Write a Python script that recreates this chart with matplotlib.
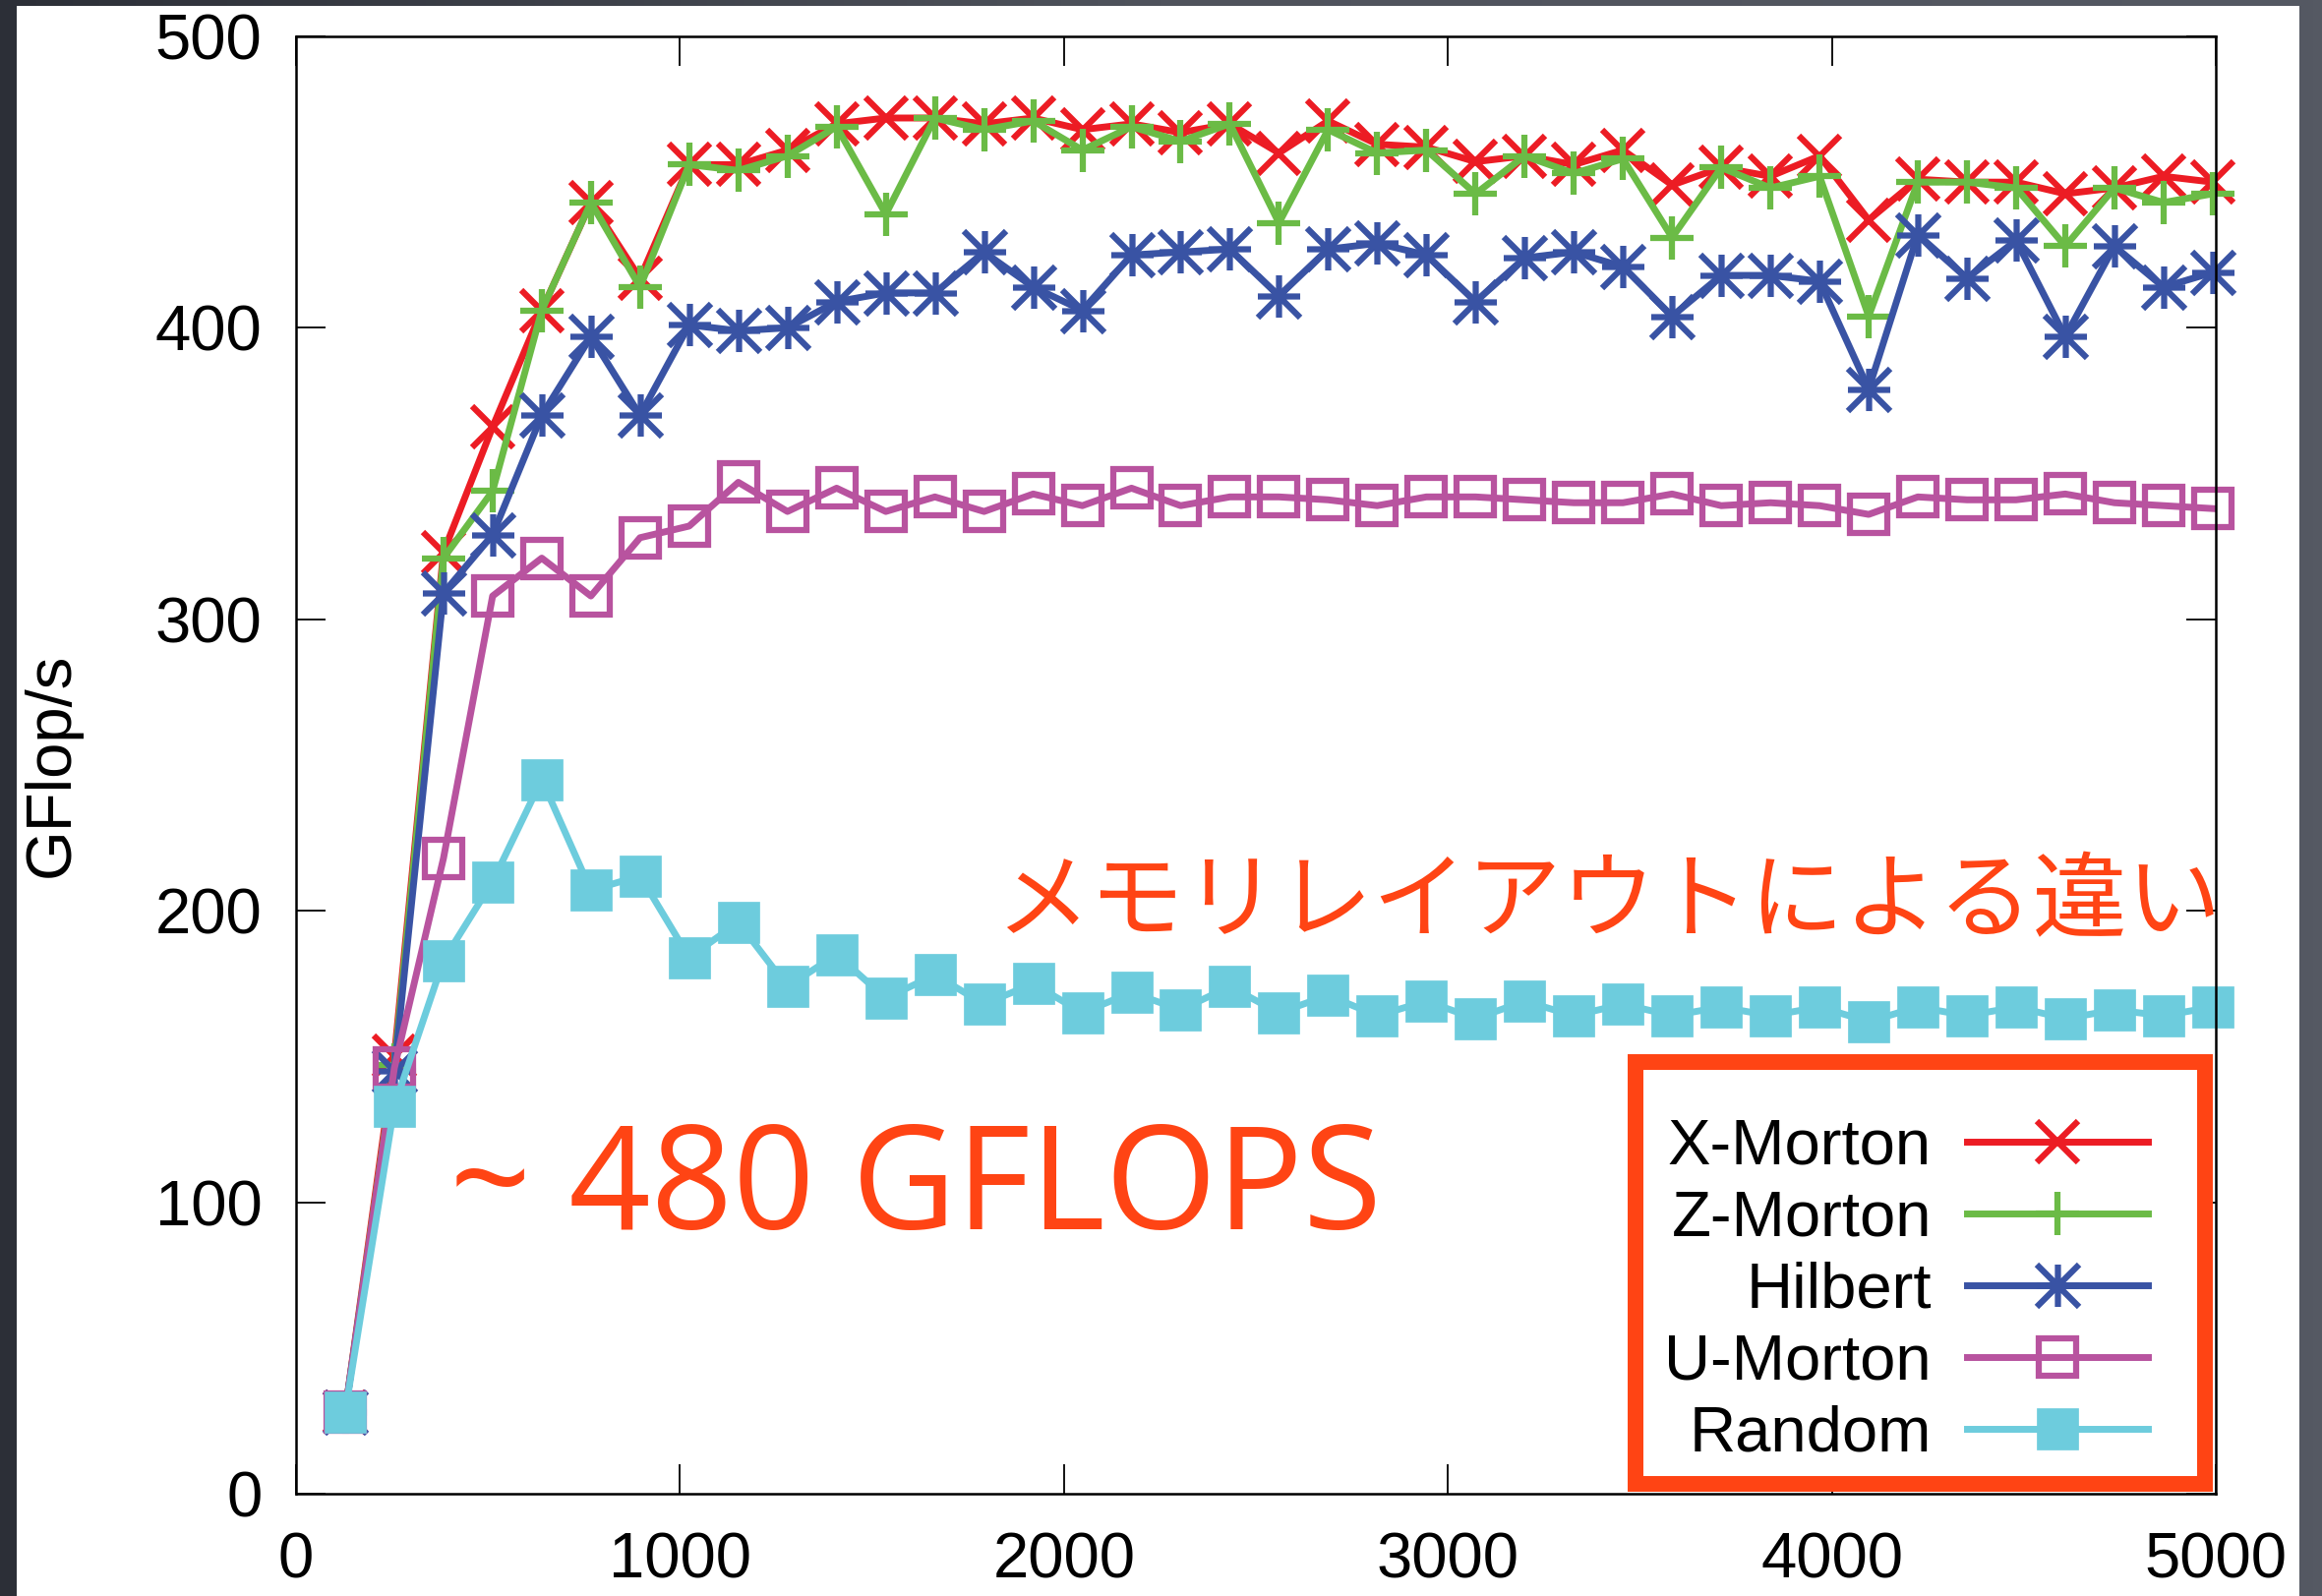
import matplotlib
matplotlib.use('Agg')
import matplotlib.pyplot as plt
import numpy as np
from matplotlib.patches import Rectangle
from matplotlib.path import Path

plt.rcParams['font.family'] = ['Liberation Sans', 'DejaVu Sans']

# ---------------- data ----------------
sizes = [128, 256, 384, 512, 640, 768, 896, 1024, 1152, 1280,
         1408, 1536, 1664, 1792, 1920, 2048, 2176, 2304, 2432, 2560,
         2688, 2816, 2944, 3072, 3200, 3328, 3456, 3584, 3712, 3840,
         3968, 4096, 4224, 4352, 4480, 4608, 4736, 4864, 4992]

x_morton = [28, 150, 323, 366, 406, 443, 417, 456, 456, 461,
            470, 472, 472, 470, 472, 468, 470, 467, 470, 460,
            471, 463, 462, 457, 459, 456, 461, 449, 455, 452,
            459, 437, 451, 450, 450, 446, 448, 452, 450]

z_morton = [28, 147, 321, 344, 406, 443, 414, 456, 454, 459,
            469, 439, 472, 468, 471, 461, 469, 464, 470, 436,
            468, 460, 461, 446, 459, 453, 458, 431, 455, 448,
            452, 404, 450, 450, 448, 428, 448, 443, 446]

hilbert = [28, 145, 309, 329, 370, 397, 370, 401, 399, 400,
           409, 412, 412, 426, 414, 406, 425, 426, 427, 411,
           427, 429, 425, 409, 424, 426, 421, 404, 418, 418,
           416, 379, 432, 417, 430, 397, 428, 414, 419]

u_morton = [28, 146, 218, 308, 321, 308, 328, 332, 347, 337,
            345, 337, 342, 337, 343, 339, 345, 339, 342, 342,
            341, 339, 342, 342, 341, 340, 340, 343, 339, 340,
            339, 336, 342, 341, 341, 343, 340, 339, 338]

random_layout = [28, 133, 183, 210, 245, 207, 212, 184, 196, 174,
                 185, 170, 178, 168, 175, 165, 172, 166, 174, 165,
                 171, 164, 169, 163, 169, 164, 168, 164, 167, 164,
                 167, 162, 167, 164, 167, 163, 166, 164, 167]

series_labels = ['X-Morton', 'Z-Morton', 'Hilbert', 'U-Morton', 'Random']
x_ticks = [0, 1000, 2000, 3000, 4000, 5000]
y_ticks = [0, 100, 200, 300, 400, 500]
y_label = 'GFlop/s'
note_peak = '~ 480 GFLOPS'
note_layout = 'メモリレイアウトによる違い'

# ---------------- figure ----------------
W, H, DPI = 2361, 1623, 100
fig = plt.figure(figsize=(W / DPI, H / DPI), dpi=DPI, facecolor='#474b54')

# dark slate backdrop: darker on the left, lighter to the right
bg = fig.add_axes([0, 0, 1, 1], zorder=-10)
grad = np.linspace(0, 1, 256)[None, :]
bg.imshow(grad, aspect='auto', extent=(0, 1, 0, 1),
          cmap=matplotlib.colors.LinearSegmentedColormap.from_list(
              'slate', ['#2c2f37', '#4f535c', '#555963']))
bg.axis('off')

fig.patches.append(Rectangle((17 / W, 0), (2338 - 17) / W, 1 - 6 / H,
                             transform=fig.transFigure, facecolor='white',
                             edgecolor='none', zorder=-5))

ax = fig.add_axes([301 / W, 104 / H, 1952 / W, 1482 / H])
ax.set_zorder(1)
ax.set_facecolor('white')

asterisk = Path([(-1, 0), (1, 0), (0, -1), (0, 1), (-1, -1), (1, 1), (-1, 1), (1, -1)],
                [Path.MOVETO, Path.LINETO] * 4)

red, green, blue, pink, cyan = '#ec1c24', '#6bbb46', '#3953a4', '#b8539f', '#6dccdd'
accent = '#ff4414'

lw = 5
ax.plot(sizes, x_morton, color=red, lw=lw, marker='x', ms=30, mew=4.5,
        label=series_labels[0], clip_on=False, zorder=2)
ax.plot(sizes, z_morton, color=green, lw=lw, marker='+', ms=32, mew=4.5,
        label=series_labels[1], clip_on=False, zorder=2)
ax.plot(sizes, hilbert, color=blue, lw=lw, marker=asterisk, ms=31, mew=4.5,
        mfc='none', label=series_labels[2], clip_on=False, zorder=2)
ax.plot(sizes, u_morton, color=pink, lw=lw, marker='s', ms=27, mew=4.5,
        mfc='none', label=series_labels[3], clip_on=False, zorder=2)
ax.plot(sizes, random_layout, color=cyan, lw=lw, marker='s', ms=30.5, mew=0.5,
        label=series_labels[4], clip_on=False, zorder=2)

ax.set_xlim(0, 5000)
ax.set_ylim(0, 500)
ax.set_xticks(x_ticks)
ax.set_yticks(y_ticks)
ax.tick_params(direction='in', length=21.6, width=1.3, top=True, right=True,
               labelsize=47, colors='black')
ax.tick_params(axis='x', pad=28)
ax.tick_params(axis='y', pad=25)
for sp in ax.spines.values():
    sp.set_linewidth(1.8)
    sp.set_zorder(3)

ax.set_ylabel(y_label, fontsize=47)
ax.yaxis.set_label_coords(-0.1119, 0.5)

# legend box (red frame) and legend
ax.add_patch(Rectangle((0.6977, 0.00675), 0.2966, 0.2895, transform=ax.transAxes,
                       facecolor='white', edgecolor=accent, linewidth=11.5,
                       joinstyle='miter', clip_on=False, zorder=2.2))
leg = ax.legend(loc='upper right', bbox_to_anchor=(0.9647, 0.2582),
                bbox_transform=ax.transAxes, frameon=False, fontsize=47,
                markerfirst=False, numpoints=1, handlelength=2.82,
                handletextpad=0.55, labelspacing=0.2, borderpad=0,
                borderaxespad=0)
leg.set_zorder(5)

# annotations
ax.text(0.080, 0.1815, note_peak, transform=ax.transAxes, fontsize=105,
        color=accent, family=['Open Sans', 'DejaVu Sans'], ha='left',
        va='baseline', zorder=4)
ax.text(1.0026, 0.3866, note_layout, transform=ax.transAxes, fontsize=69,
        color=accent, family=['Noto Sans CJK JP', 'DejaVu Sans'], ha='right',
        va='baseline', zorder=4)

fig.savefig('out.png', dpi=DPI, facecolor=fig.get_facecolor())
